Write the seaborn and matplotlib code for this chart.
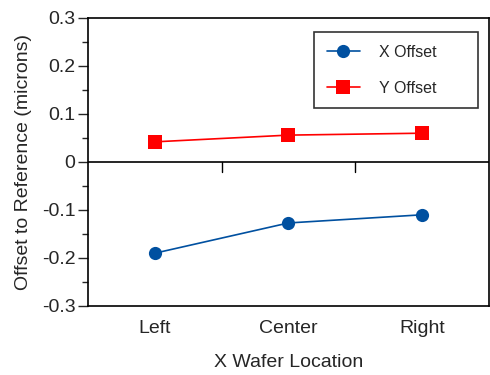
import pandas as pd
import matplotlib.pyplot as plt
import seaborn as sns
from matplotlib.ticker import FixedLocator, MultipleLocator

locations = ["Left", "Center", "Right"]
x_offset = [-0.19, -0.127, -0.11]
y_offset = [0.042, 0.056, 0.060]
y_ticks = [-0.3, -0.2, -0.1, 0, 0.1, 0.2, 0.3]
y_tick_labels = ["-0.3", "-0.2", "-0.1", "0", "0.1", "0.2", "0.3"]

df = pd.DataFrame({
    "location": locations * 2,
    "offset": x_offset + y_offset,
    "series": ["X Offset"] * 3 + ["Y Offset"] * 3,
})

sns.set_style("ticks")
plt.rcParams["font.family"] = ["Liberation Sans", "DejaVu Sans"]

fig = plt.figure(figsize=(4.9, 3.75), dpi=100)
ax = fig.add_axes([0.1796, 0.184, 0.818, 0.768])

sns.lineplot(data=df, x="location", y="offset", hue="series", style="series",
             palette={"X Offset": "#0050a0", "Y Offset": "#ff0000"},
             markers={"X Offset": "o", "Y Offset": "s"}, dashes=False,
             markersize=9.5, markeredgewidth=0, linewidth=1.2, sort=False, ax=ax)

ax.set_xlim(-0.5, 2.5)
ax.set_ylim(-0.3, 0.3)
ax.yaxis.set_major_locator(FixedLocator(y_ticks))
ax.yaxis.set_minor_locator(MultipleLocator(0.05))
ax.set_yticklabels(y_tick_labels, fontsize=14)
ax.set_xticks([0, 1, 2])
ax.set_xticklabels(locations, fontsize=14)
ax.tick_params(axis="x", length=0, pad=10)
ax.tick_params(axis="y", which="major", length=7, width=1, direction="out", pad=2)
ax.tick_params(axis="y", which="minor", length=4.5, width=1, direction="out")

# zero line with ticks between categories
ax.axhline(0, color="black", linewidth=1.2, zorder=1)
for xb in [0.5, 1.5]:
    ax.plot([xb, xb], [0, -0.021], color="black", linewidth=1, zorder=1)

for s in ax.spines.values():
    s.set_linewidth(1.2)
    s.set_color("black")

ax.set_xlabel("X Wafer Location", fontsize=14, labelpad=12)
ax.set_ylabel("Offset to Reference (microns)", fontsize=14, labelpad=7)

leg = ax.legend(loc="upper left", bbox_to_anchor=(0.5636, 0.5, 0.409, 0.451),
                mode="expand", borderaxespad=0, fontsize=11.5,
                frameon=True, fancybox=False, edgecolor="black",
                borderpad=0.8, labelspacing=1.3, handlelength=2.1, handletextpad=1.2)
leg.get_frame().set_linewidth(1.2)

fig.savefig("out.png", dpi=100)
